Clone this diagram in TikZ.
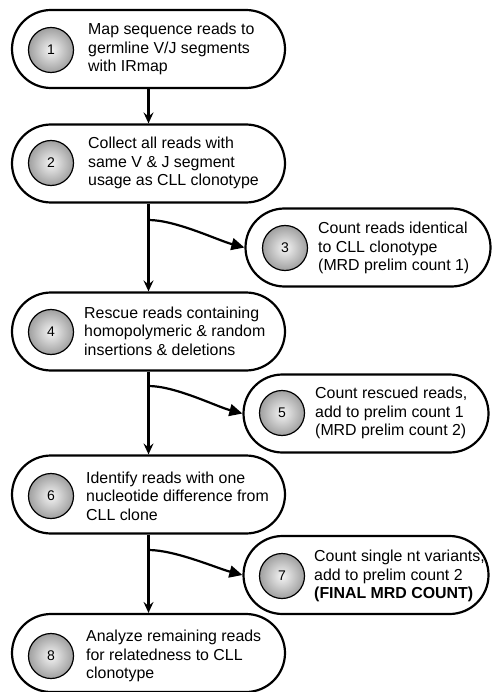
\documentclass[tikz,border=0pt]{standalone}
\usepackage{fontspec}
\setmainfont{Liberation Sans}
\usetikzlibrary{arrows.meta,shapes.misc}
\begin{document}
\begin{tikzpicture}[x=1pt,y=-1pt,
  stadium/.style={draw, line width=2.2pt, rounded rectangle, minimum height=78pt, inner sep=0pt},
  leftbox/.style={stadium, minimum width=273pt},
  rightbox/.style={stadium, minimum width=245pt},
  numcirc/.style={circle, draw, line width=1.2pt, minimum size=45pt, inner sep=0pt,
    inner color=gray!8, outer color=gray!75, font=\fontsize{14}{14}\selectfont},
  txt/.style={anchor=west, align=left, inner sep=0pt, font=\fontsize{15.9}{18.6}\selectfont},
  down/.style={line width=2.2pt, -{Stealth[length=11pt,width=10pt,inset=4pt]}},
  branch/.style={line width=2.2pt, -{Triangle[length=13pt,width=12pt]}}
]
\useasboundingbox (0,0) rectangle (492,692);
% left column
\node[leftbox] (b1) at (148.5,49) {};
\node[leftbox] (b2) at (148.5,163.5) {};
\node[leftbox] (b4) at (148.5,331.5) {};
\node[leftbox] (b6) at (148.5,494.5) {};
\node[leftbox] (b8) at (148.5,653) {};
% right column
\node[rightbox] (b3) at (368,247.5) {};
\node[rightbox] (b5) at (366,413.5) {};
\node[rightbox] (b7) at (366,575) {};
% circles
\node[numcirc] (c1) at (51,50) {1};
\node[numcirc] (c2) at (51,163) {2};
\node[numcirc] (c4) at (51,332) {4};
\node[numcirc] (c6) at (51,496) {6};
\node[numcirc] (c8) at (51,656) {8};
\node[numcirc] (c3) at (285,248) {3};
\node[numcirc] (c5) at (282,413) {5};
\node[numcirc] (c7) at (282,576) {7};
% texts
\node[txt] (t1) at (88,49) {Map sequence reads to\\germline V/J segments\\with IRmap};
\node[txt] (t2) at (88,163) {Collect all reads with\\same V \& J segment\\usage as CLL clonotype};
\node[txt] (t4) at (84,331) {Rescue reads containing\\homopolymeric \& random\\insertions \& deletions};
\node[txt] (t6) at (86,496) {Identify reads with one\\nucleotide difference from\\CLL clone};
\node[txt] (t8) at (86,656) {Analyze remaining reads\\for relatedness to CLL\\clonotype};
\node[txt] (t3) at (318,248) {Count reads identical\\to CLL clonotype\\(MRD prelim count 1)};
\node[txt] (t5) at (315,413) {Count rescued reads,\\add to prelim count 1\\(MRD prelim count 2)};
\node[txt] (t7) at (314,576) {Count single nt variants,\\add to prelim count 2\\\textbf{(FINAL MRD COUNT)}};
% branch points
\coordinate (s2) at (148.5,220);
\coordinate (s4) at (148.5,386);
\coordinate (s6) at (148.5,550);
% connectors
\draw[down] (b1.south) -- (b2.north);
\draw[down] (b2.south) -- (b4.north);
\draw[down] (b4.south) -- (b6.north);
\draw[down] (b6.south) -- (b8.north);
\draw[branch] (s2) to[out=0,in=165,looseness=0.7] (b3.west);
\draw[branch] (s4) to[out=0,in=165,looseness=0.7] (b5.west);
\draw[branch] (s6) to[out=0,in=165,looseness=0.7] (b7.west);
\end{tikzpicture}
\end{document}
